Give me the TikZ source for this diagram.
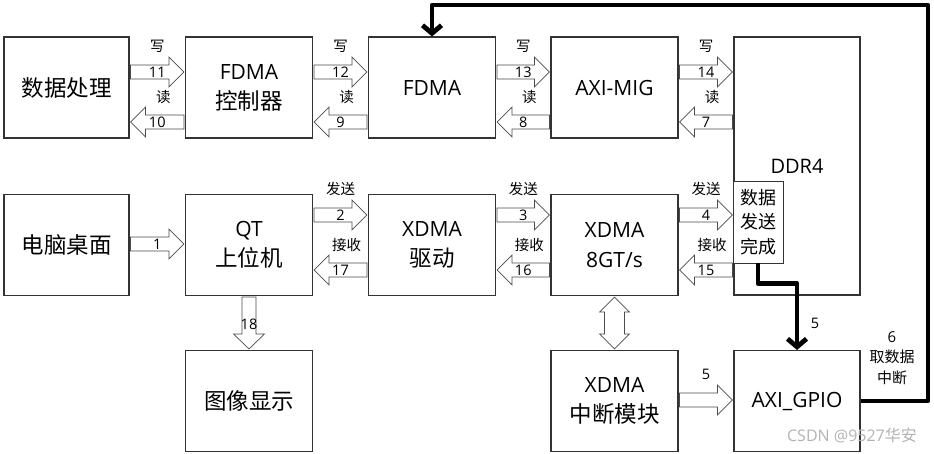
\documentclass[tikz,border=0pt]{standalone}
\usepackage{fontspec}
\setmainfont{Noto Sans CJK SC}
\newfontfamily\lat{Open Sans}
\newcommand\latb{\lat\fontsize{21}{30}\selectfont}
\usetikzlibrary{arrows.meta,calc}
\tikzset{
 box/.style={draw=black!80, line width=1.1pt, minimum width=127pt, minimum height=101pt, inner sep=0pt, align=center, font=\fontsize{22.5}{30}\selectfont},
 blk/.style={draw=black!70, line width=0.7pt, fill=white, line join=miter},
 num/.style={font=\lat\fontsize{14.5}{15}\selectfont, inner sep=0pt},
 lbl/.style={font=\fontsize{14.5}{15}\selectfont, inner sep=0pt},
 thk/.style={line width=4.8pt, line join=round, -{Straight Barb[length=8pt,width=19pt]}},
}
% right-pointing block arrow: from box, to box, y, number, label above
\newcommand\rarr[5]{%
 \coordinate (ra) at (#1.east |- 0,#3);
 \coordinate (rb) at (#2.west |- 0,#3);
 \draw[blk] ($(ra)+(1,-7)$) -- ($(rb)+(-16,-7)$) -- ($(rb)+(-16,-15)$) -- ($(rb)+(-1,0)$) -- ($(rb)+(-16,15)$) -- ($(rb)+(-16,7)$) -- ($(ra)+(1,7)$) -- cycle;
 \node[num] at ($(ra)!0.5!(rb)$) {#4};
 \node[lbl] at ($(ra)!0.5!(rb)+(0,-26)$) {#5};}
% left-pointing block arrow: left box (tip), right box, y, number, label above
\newcommand\larr[5]{%
 \coordinate (ra) at (#1.east |- 0,#3);
 \coordinate (rb) at (#2.west |- 0,#3);
 \draw[blk] ($(rb)+(-1,-7)$) -- ($(ra)+(16,-7)$) -- ($(ra)+(16,-15)$) -- ($(ra)+(1,0)$) -- ($(ra)+(16,15)$) -- ($(ra)+(16,7)$) -- ($(rb)+(-1,7)$) -- cycle;
 \node[num] at ($(ra)!0.5!(rb)$) {#4};
 \node[lbl] at ($(ra)!0.5!(rb)+(6,-25)$) {#5};}
\begin{document}
\begin{tikzpicture}[x=1pt,y=-1pt]
\useasboundingbox (0,0) rectangle (934,453);
% boxes
\node[box, minimum width=125pt] (proc) at (66.5,87.5) {数据处理};
\node[box] (fctl) at (249,87.5) {{\latb FDMA}\\控制器};
\node[box] (fdma) at (432,87.5) {\latb FDMA};
\node[box] (mig)  at (614.5,87.5) {\latb AXI-MIG};
\node[box, minimum width=126pt, minimum height=258pt, font=\lat\fontsize{20}{24}\selectfont] (ddr) at (797,166) {DDR4};
\node[draw=black!80, line width=0.9pt, fill=white, minimum width=50pt, minimum height=82pt, inner sep=0pt, align=center, font=\fontsize{18}{24.5}\selectfont] (sendok) at (758,222) {数据\\发送\\完成};
\node[box, minimum width=125pt] (pc) at (66.5,245) {电脑桌面};
\node[box] (qt) at (249,245) {{\latb QT}\\上位机};
\node[box] (drv) at (432,245) {{\latb XDMA}\\驱动};
\node[box] (xdma) at (614.5,245) {{\latb XDMA}\\{\latb 8GT/s}};
\node[box] (img) at (249,401) {图像显示};
\node[box] (xint) at (614.5,401) {{\latb XDMA}\\中断模块};
\node[box, minimum width=126pt] (gpio) at (797,401) {\latb AXI\_GPIO};
% top row block arrows
\rarr{proc}{fctl}{72}{11}{写}
\larr{proc}{fctl}{122}{10}{读}
\rarr{fctl}{fdma}{72}{12}{写}
\larr{fctl}{fdma}{122}{9}{读}
\rarr{fdma}{mig}{72}{13}{写}
\larr{fdma}{mig}{122}{8}{读}
\rarr{mig}{ddr}{72}{14}{写}
\larr{mig}{ddr}{122}{7}{读}
% middle row block arrows
\rarr{pc}{qt}{244}{1}{}
\rarr{qt}{drv}{215}{2}{发送}
\larr{qt}{drv}{270}{17}{接收}
\rarr{drv}{xdma}{215}{3}{发送}
\larr{drv}{xdma}{270}{16}{接收}
\rarr{xdma}{ddr}{215}{4}{发送}
\larr{xdma}{ddr}{270}{15}{接收}
% bottom arrows
\rarr{xint}{gpio}{400}{}{\lat 5}
\coordinate (da) at (qt.south);
\coordinate (db) at (img.north);
\draw[blk] ($(da)+(-7,1)$) -- ($(db)+(-7,-16)$) -- ($(db)+(-15.5,-16)$) -- ($(db)+(0,-1)$) -- ($(db)+(15.5,-16)$) -- ($(db)+(7,-16)$) -- ($(da)+(7,1)$) -- cycle;
\node[num] at ($(da)+(0,28)$) {18};
\coordinate (dc) at (xdma.south);
\coordinate (dd) at (xint.north);
\draw[blk] ($(dc)+(0,1)$) -- ($(dc)+(15,16)$) -- ($(dc)+(10,16)$) -- ($(dd)+(10,-16)$) -- ($(dd)+(15,-16)$) -- ($(dd)+(0,-1)$) -- ($(dd)+(-15,-16)$) -- ($(dd)+(-10,-16)$) -- ($(dc)+(-10,16)$) -- ($(dc)+(-15,16)$) -- cycle;
% thick connectors
\draw[thk] (sendok.south) -- ++(0,20) -| (gpio.north);
\node[num] at (815,323) {5};
\coordinate (tr) at (928,5);
\draw[thk] (gpio.east) -| (tr) -| (fdma.north);
\node[align=center, inner sep=0pt, font=\fontsize{15}{20.5}\selectfont] (intlbl) at (892,358) {{\lat 6}\\取数据\\中断};
% watermark
\node[text=black!30, inner sep=0pt, font=\fontsize{16}{16}\selectfont] (wm) at (852,435) {{\lat CSDN @9527}华安};
\end{tikzpicture}
\end{document}
